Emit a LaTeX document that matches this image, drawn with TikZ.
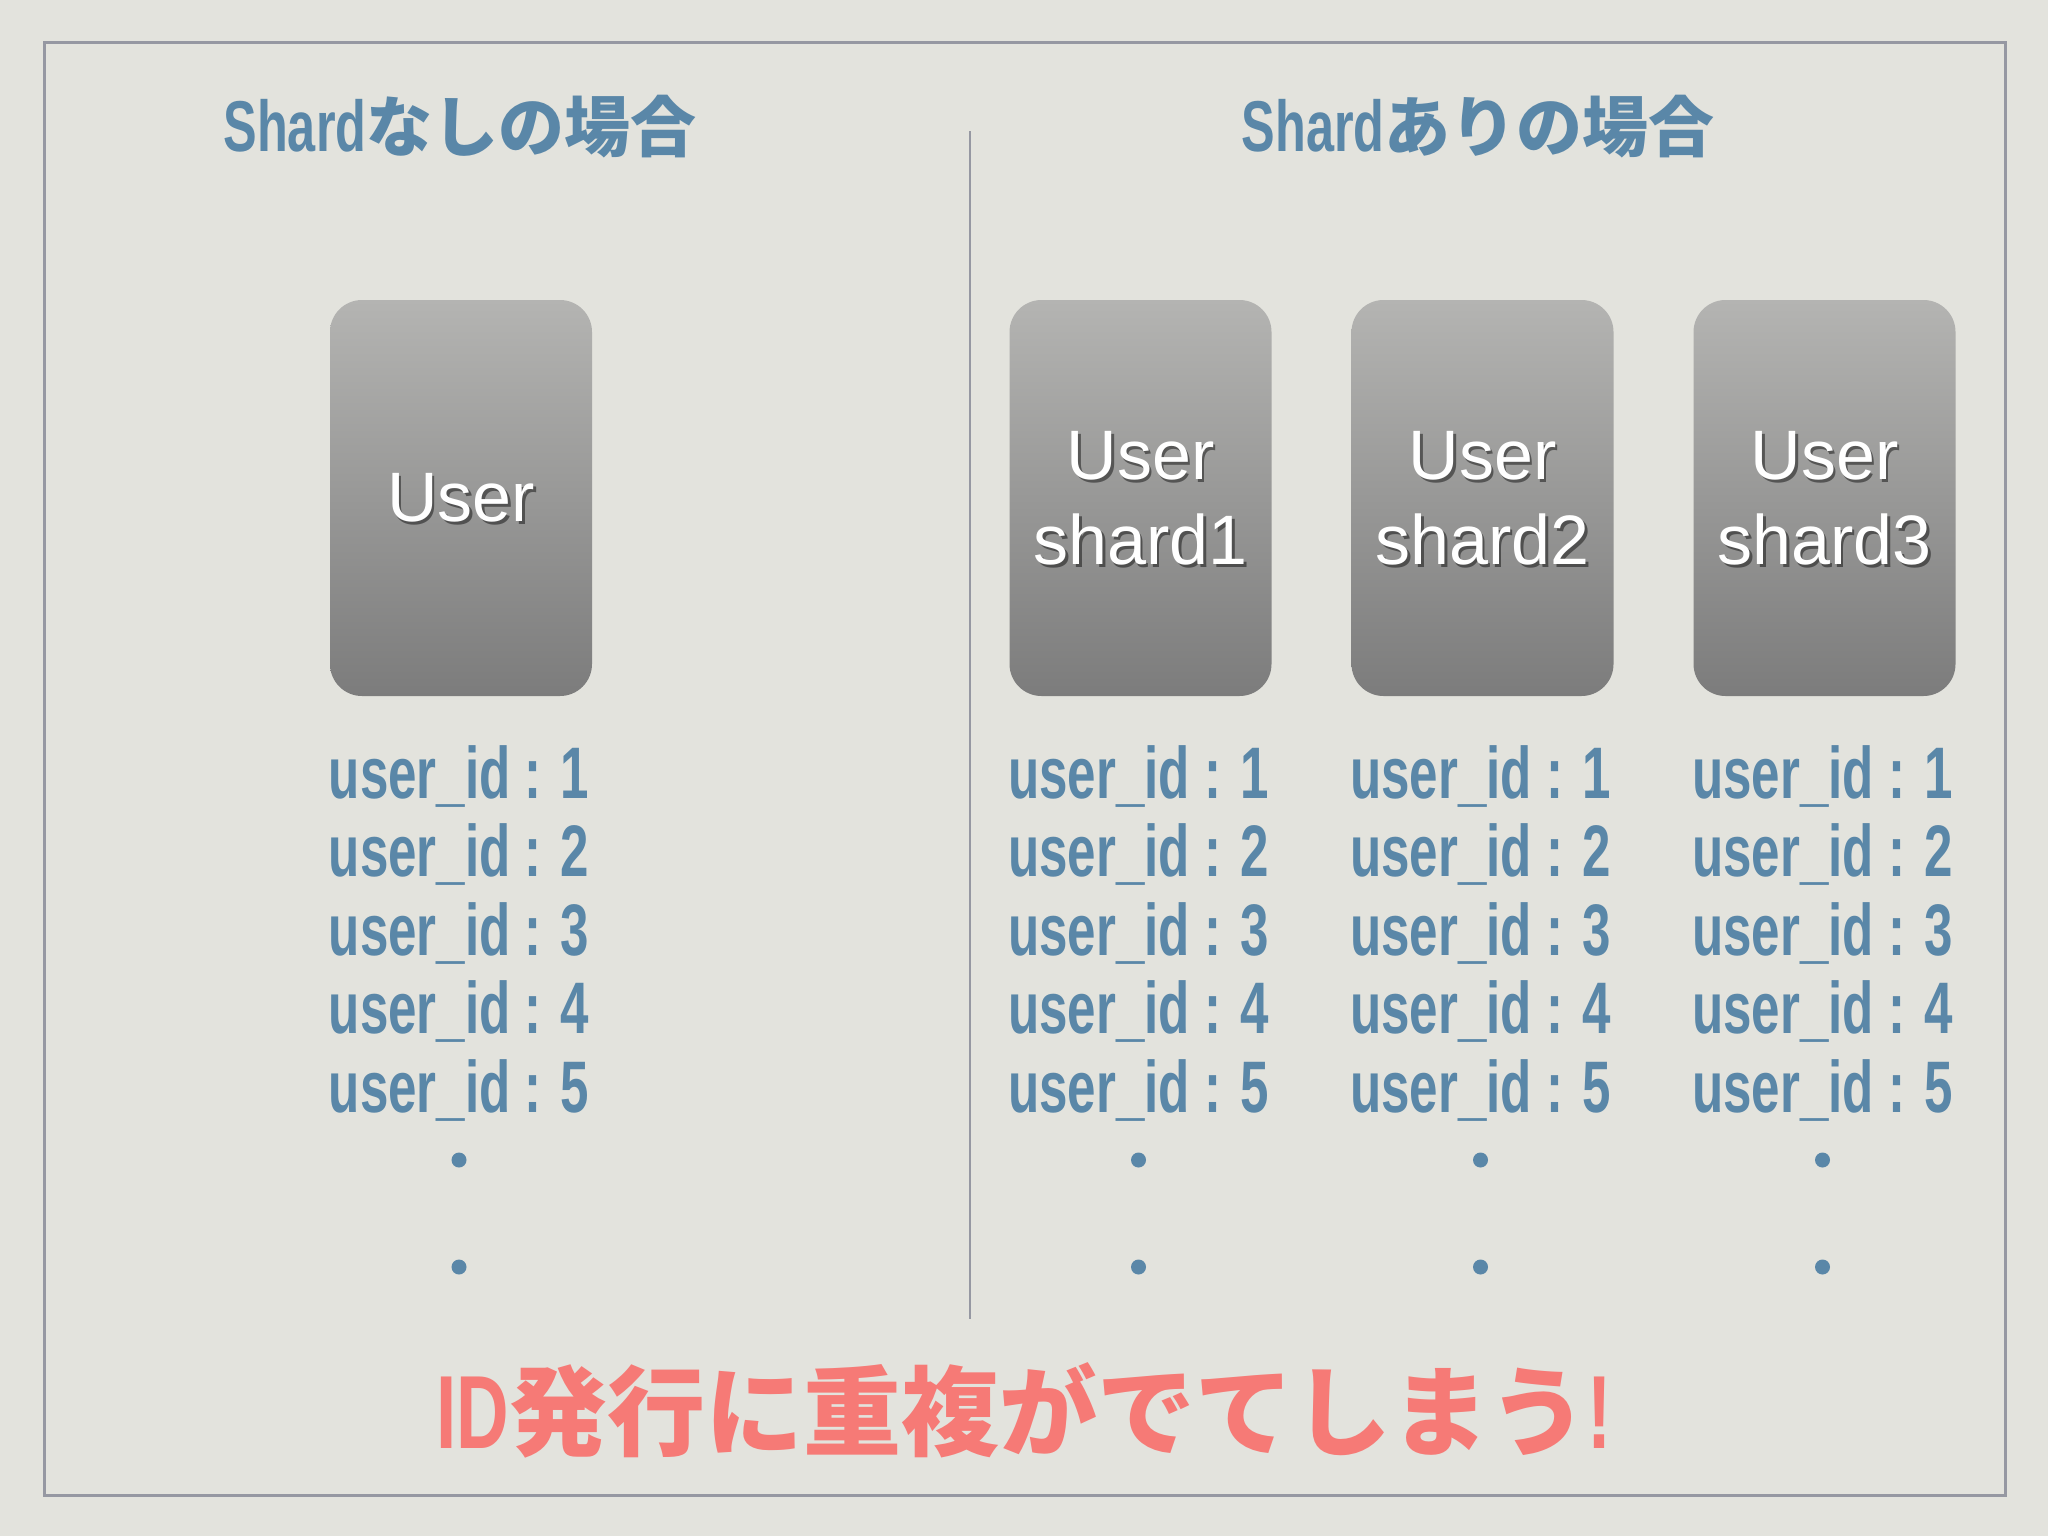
\documentclass[tikz,border=0pt]{standalone}
\usepackage{fontspec}
\setmainfont{Liberation Sans}
\newfontfamily\jpfont{Noto Sans CJK JP}
\newfontfamily\condfont{Liberation Sans}[FakeStretch=0.70]
\usetikzlibrary{positioning,calc}
\definecolor{bgcol}{RGB}{227,227,221}
\definecolor{framecol}{RGB}{150,152,162}
\definecolor{idcol}{RGB}{90,135,168}
\definecolor{warncol}{RGB}{246,122,118}
\definecolor{boxtop}{RGB}{180,180,178}
\definecolor{boxbot}{RGB}{124,124,124}
\newcommand{\lat}[2]{{\condfont\bfseries\fontsize{#1}{#1}\selectfont #2}}

\begin{document}
\begin{tikzpicture}[x=0.5pt,y=-0.5pt,
  title/.style={idcol,font=\jpfont\bfseries\fontsize{33}{40}\selectfont,inner sep=0pt},
  dbbox/.style={rounded corners=16pt,top color=boxtop,bottom color=boxbot,
     minimum width=131pt,minimum height=198pt,inner sep=0pt},
  boxtext/.style={white,align=center,font=\fontsize{35}{42.5}\selectfont,inner sep=0pt},
  boxshade/.style={boxtext,black,opacity=0.45},
  idtext/.style={idcol,font=\condfont\bfseries\fontsize{36.5}{40}\selectfont,inner sep=0pt,anchor=base},
  dot/.style={circle,fill=idcol,inner sep=0pt,minimum size=7.5pt},
  warn/.style={warncol,font=\jpfont\bfseries\fontsize{49}{56}\selectfont,inner sep=0pt}]
  \fill[bgcol] (0,0) rectangle (2048,1536);
  \draw[framecol,line width=1.5pt] (44,43) rectangle (2005,1495);
  \coordinate (div-top) at (970,131);
  \coordinate (div-bot) at (970,1319);
  \draw[framecol,line width=1pt] (div-top)--(div-bot);
  % headings
  \node[title] (t-none) at (460,127) {\lat{36}{Shard}なしの場合};
  \node[title] (t-shard) at (1478,127) {\lat{36}{Shard}ありの場合};
  % tables, shadowed labels, ids and dots
  \foreach \n/\x/\t in {user/461/User,s1/1140.5/{User\\shard1},
                         s2/1482.5/{User\\shard2},s3/1824.5/{User\\shard3}}{
    \node[dbbox] (\n-box) at (\x,498) {};
    \node[boxshade] (\n-sh) at ([shift={(2.5,3)}]\n-box.center) {\t};
    \node[boxtext] (\n-lbl) at (\n-box.center) {\t};
    \foreach \i in {1,...,5}
      {\node[idtext] (\n-id\i) at (\x-2,720+78.4*\i) {user\_id : \i};}
    \node[dot] (\n-d1) at (\x-2,1160) {};
    \node[dot] (\n-d2) at (\x-2,1267) {};
  }
  \node[warn] (warn) at (1024,1410) {\lat{52}{ID}発行に重複がでてしまう\lat{52}{!}};
\end{tikzpicture}
\end{document}
